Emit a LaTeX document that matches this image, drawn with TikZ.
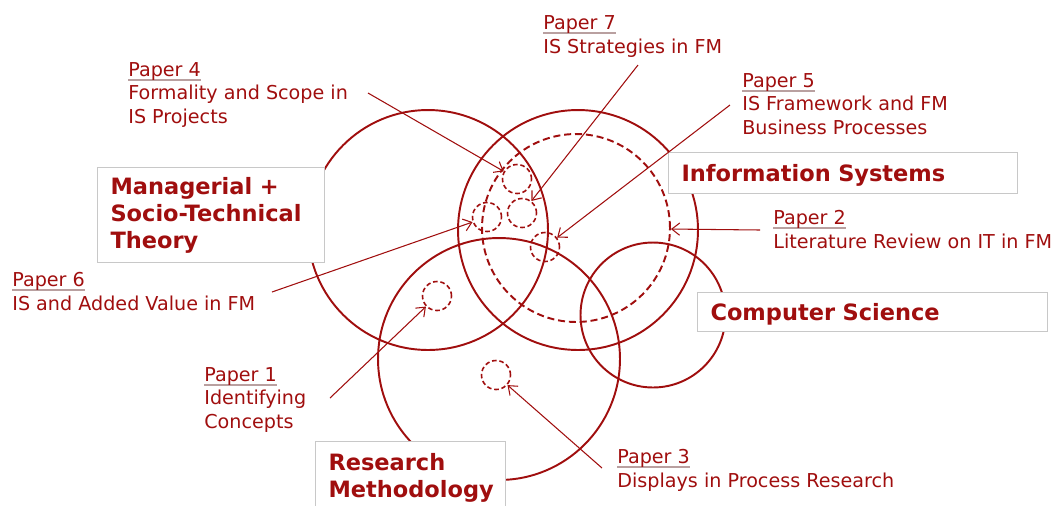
\documentclass[tikz,border=0pt]{standalone}
\usepackage{fontspec}
\setmainfont{DejaVu Sans}
\usetikzlibrary{arrows.meta}
\definecolor{fmred}{RGB}{160,14,14}
\definecolor{boxgray}{RGB}{200,200,200}
\definecolor{ulgray}{RGB}{185,160,160}
\newcommand{\papertag}[1]{\setbox0=\hbox{#1}\rlap{\textcolor{ulgray}{\rule[-2.2pt]{\wd0}{0.8pt}}}\box0}
\begin{document}
\begin{tikzpicture}[x=0.02cm, y=-0.02cm,
    field/.style={circle, draw=fmred, line width=1.1pt, minimum size=#1, inner sep=0pt},
    paper/.style={circle, draw=fmred, line width=0.9pt, dash pattern=on 2.6pt off 1.6pt, minimum size=0.58cm, inner sep=0pt},
    area/.style={draw=boxgray, line width=0.6pt, fill=white, anchor=north west, align=left, inner xsep=0.26cm, inner ysep=0.1cm, font=\fontsize{12.8}{15.4}\selectfont\bfseries, text=fmred},
    tag/.style={anchor=base west, align=left, inner sep=0pt, font=\fontsize{10.9}{13.1}\selectfont, text=fmred},
    pointer/.style={draw=fmred, line width=0.6pt, -{Straight Barb[length=4.5pt,width=7pt]}}]
    \useasboundingbox (0,0) rectangle (1059,505);

    \node[field=4.8cm] (mgmt) at (428,230) {};
    \node[field=4.8cm] (is) at (578,230) {};
    \node[field=3.76cm, dash pattern=on 4pt off 2.2pt] (isdash) at (576,228) {};
    \node[field=4.84cm] (rm) at (499,359) {};
    \node[field=2.9cm] (cs) at (653,315) {};

    \node[paper] (c4) at (517,179) {};
    \node[paper] (c7) at (522,213) {};
    \node[paper] (c6) at (487,217) {};
    \node[paper] (c5) at (545,247) {};
    \node[paper] (c1) at (437,296) {};
    \node[paper] (c3) at (496,375) {};

    \node[area, text width=4.02cm, minimum width=4.54cm, minimum height=1.9cm] (mgmtbox) at (97,167) {Managerial +\\Socio-Technical\\Theory};
    \node[area, text width=6.46cm, minimum width=6.98cm, minimum height=0.82cm, text depth=0pt] (isbox) at (668,152) {Information Systems};
    \node[area, text width=6.48cm, minimum width=7.0cm, minimum height=0.78cm, text depth=0pt] (csbox) at (697,292) {Computer Science};
    \node[area, text width=3.28cm, minimum width=3.8cm, inner ysep=0.24cm] (rmbox) at (315,441) {Research\\Methodology};

    \coordinate (s4) at (368,93);
    \coordinate (s7) at (638,65);
    \coordinate (s5) at (730,105);
    \coordinate (s2) at (760,230);
    \coordinate (s6) at (272,292);
    \coordinate (s1) at (330,398);
    \coordinate (s3) at (602,468);

    \draw[pointer] (s4) -- (c4);
    \draw[pointer] (s7) -- (c7);
    \draw[pointer] (s5) -- (c5);
    \draw[pointer] (s2) -- (isdash);
    \draw[pointer] (s6) -- (c6);
    \draw[pointer] (s1) -- (c1);
    \draw[pointer] (s3) -- (c3);

    \node[tag] (t7) at (543,53) {\papertag{Paper 7}\\IS Strategies in FM};
    \node[tag] (t5) at (742,134) {\papertag{Paper 5}\\IS Framework and FM\\Business Processes};
    \node[tag] (t4) at (128,123) {\papertag{Paper 4}\\Formality and Scope in\\IS Projects};
    \node[tag] (t2) at (773,248) {\papertag{Paper 2}\\Literature Review on IT in FM};
    \node[tag] (t6) at (12,310) {\papertag{Paper 6}\\IS and Added Value in FM};
    \node[tag] (t1) at (204,428) {\papertag{Paper 1}\\Identifying\\Concepts};
    \node[tag] (t3) at (617,487) {\papertag{Paper 3}\\Displays in Process Research};
  \end{tikzpicture}
\end{document}
